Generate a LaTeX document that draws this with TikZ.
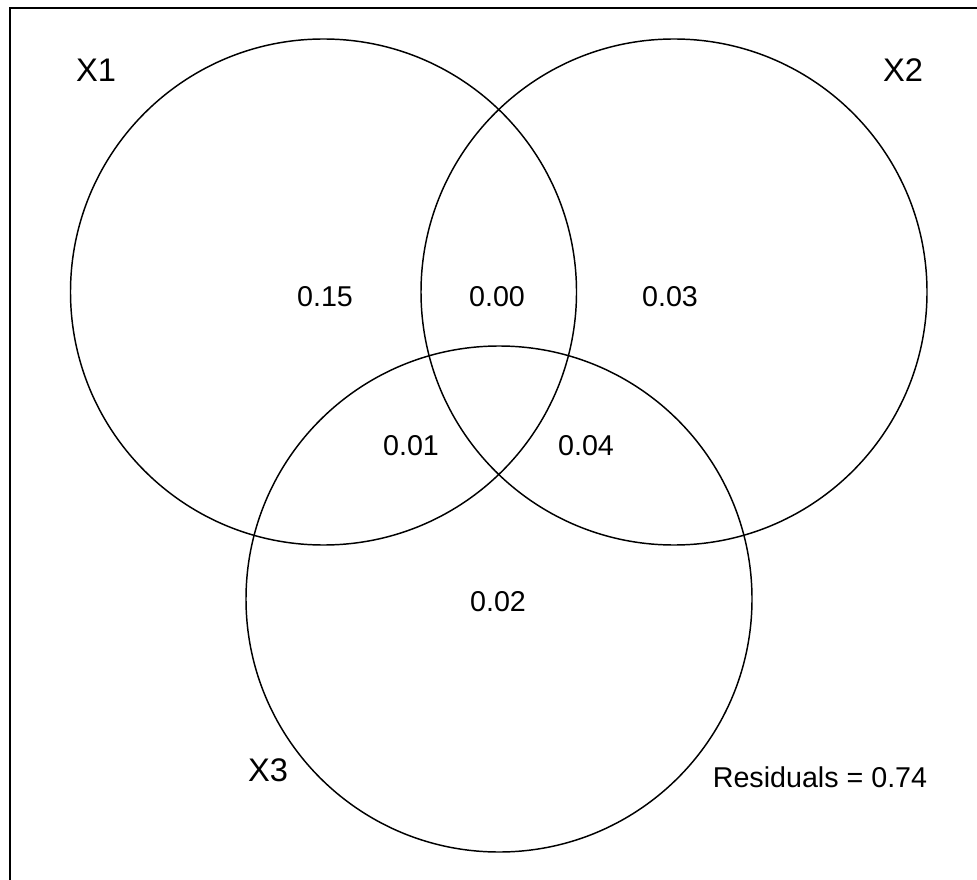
\documentclass[tikz,border=0pt]{standalone}
\usepackage{fontspec}
\setmainfont{Liberation Sans}
\begin{document}
\begin{tikzpicture}[x=0.75pt,y=-0.75pt,
  setcirc/.style={draw=black,line width=1.1pt},
  frameline/.style={draw=black,line width=1.5pt},
  frac/.style={font=\fontsize{21.5}{25}\selectfont,inner sep=0pt},
  setlab/.style={font=\fontsize{24.5}{29}\selectfont,inner sep=0pt}]
\useasboundingbox (0,0) rectangle (977,880);
\fill[white] (0,0) rectangle (977,880);
\draw[frameline] (10,880) -- (10,8) -- (977,8);
\coordinate (c1) at (323.5,292);
\coordinate (c2) at (674,292);
\coordinate (c3) at (499,599);
\draw[setcirc] (c1) circle[radius=253];
\draw[setcirc] (c2) circle[radius=253];
\draw[setcirc] (c3) circle[radius=253];
\node[setlab] (x1) at (96,70) {X1};
\node[setlab] (x2) at (903,70) {X2};
\node[setlab] (x3) at (268,770) {X3};
\node[frac] (a) at (325,297) {0.15};
\node[frac] (b) at (497,297) {0.00};
\node[frac] (c) at (670,297) {0.03};
\node[frac] (ab) at (411,446) {0.01};
\node[frac] (bc) at (586,446) {0.04};
\node[frac] (d) at (498,602) {0.02};
\node[frac] (res) at (820,777) {Residuals = 0.74};
\end{tikzpicture}
\end{document}
